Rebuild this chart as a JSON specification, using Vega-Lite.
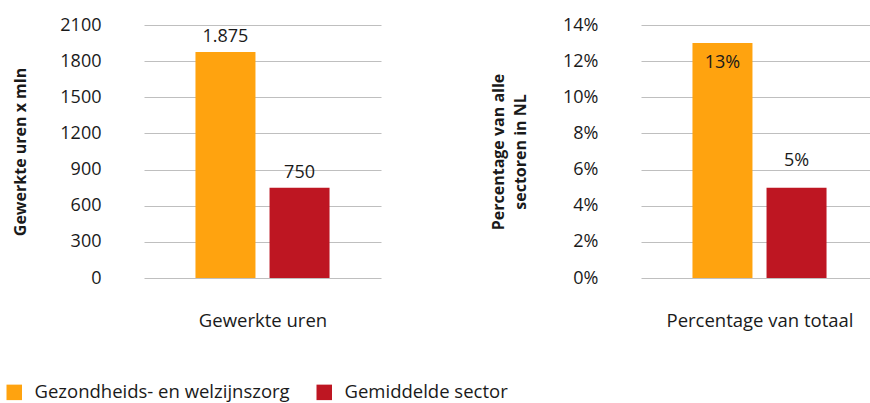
{
  "$schema": "https://vega.github.io/schema/vega-lite/v6.json",
  "padding": {"left": 5, "top": 16, "right": 0, "bottom": 0},
  "config": {
    "font": "Open Sans",
    "view": {"stroke": null},
    "locale": {"number": {"decimal": ",", "thousands": ".", "grouping": [3], "currency": ["€", ""]}},
    "axis": {"labelFont": "Open Sans", "titleFont": "Open Sans", "labelColor": "#1a1a1a", "titleColor": "#1a1a1a"}
  },
  "data": {
    "values": [
      {"panel": "uren", "category": "Gewerkte uren", "series": "Gezondheids- en welzijnszorg", "value": 1875},
      {"panel": "uren", "category": "Gewerkte uren", "series": "Gemiddelde sector", "value": 750},
      {"panel": "pct", "category": "Percentage van totaal", "series": "Gezondheids- en welzijnszorg", "value": 0.13},
      {"panel": "pct", "category": "Percentage van totaal", "series": "Gemiddelde sector", "value": 0.05}
    ]
  },
  "hconcat": [
    {
      "width": 237,
      "height": 253,
      "transform": [{"filter": "datum.panel === 'uren'"}],
      "encoding": {
        "x": {
          "field": "series", "type": "nominal", "sort": ["Gezondheids- en welzijnszorg", "Gemiddelde sector"],
          "scale": {"paddingInner": 0, "paddingOuter": 0.6},
          "axis": {"labels": false, "ticks": false, "domain": false, "title": "Gewerkte uren", "titleFontSize": 18.5, "titleFontWeight": "normal", "titlePadding": 33}
        },
        "y": {
          "field": "value", "type": "quantitative",
          "scale": {"domain": [0, 2100], "nice": false},
          "axis": {"values": [0, 300, 600, 900, 1200, 1500, 1800, 2100], "format": "d", "labelFontSize": 18, "labelPadding": 43, "ticks": false, "domain": false, "gridColor": "#BFBFBF", "title": "Gewerkte uren x mln", "titleFontSize": 16, "titleFontWeight": "bold", "titlePadding": 31}
        }
      },
      "layer": [
        {
          "mark": {"type": "bar", "size": 60},
          "encoding": {
            "color": {
              "field": "series", "type": "nominal",
              "scale": {"domain": ["Gezondheids- en welzijnszorg", "Gemiddelde sector"], "range": ["#FFA30F", "#BE1622"]},
              "legend": {"orient": "none", "legendX": -139, "legendY": 358, "direction": "horizontal", "title": null, "symbolType": "square", "symbolSize": 240, "symbolStrokeWidth": 0, "symbolOpacity": 1, "labelFontSize": 18.5, "labelLimit": 400, "labelColor": "#1a1a1a", "labelFont": "Open Sans", "columnPadding": 25, "labelOffset": 11}
            }
          }
        },
        {
          "mark": {"type": "text", "baseline": "bottom", "dy": -6, "fontSize": 18, "color": "#1a1a1a"},
          "encoding": {"text": {"field": "value", "type": "quantitative", "format": ",.0f"}}
        }
      ]
    },
    {
      "width": 237,
      "height": 253,
      "transform": [{"filter": "datum.panel === 'pct'"}],
      "encoding": {
        "x": {
          "field": "series", "type": "nominal", "sort": ["Gezondheids- en welzijnszorg", "Gemiddelde sector"],
          "scale": {"paddingInner": 0, "paddingOuter": 0.6},
          "axis": {"labels": false, "ticks": false, "domain": false, "title": "Percentage van totaal", "titleFontSize": 18.5, "titleFontWeight": "normal", "titlePadding": 33}
        },
        "y": {
          "field": "value", "type": "quantitative",
          "scale": {"domain": [0, 0.14], "nice": false},
          "axis": {"values": [0, 0.02, 0.04, 0.06, 0.08, 0.1, 0.12, 0.14], "format": ".0%", "labelFontSize": 18, "labelPadding": 43, "ticks": false, "domain": false, "gridColor": "#BFBFBF", "title": ["Percentage van alle", "sectoren in NL"], "titleFontSize": 16, "titleLineHeight": 22, "titleFontWeight": "bold", "titlePadding": 34}
        }
      },
      "layer": [
        {
          "mark": {"type": "bar", "size": 60},
          "encoding": {"color": {"field": "series", "type": "nominal"}}
        },
        {
          "transform": [{"filter": "datum.series === 'Gezondheids- en welzijnszorg'"}],
          "mark": {"type": "text", "baseline": "top", "dy": 11, "fontSize": 18, "color": "#1a1a1a"},
          "encoding": {"text": {"field": "value", "type": "quantitative", "format": ".0%"}}
        },
        {
          "transform": [{"filter": "datum.series === 'Gemiddelde sector'"}],
          "mark": {"type": "text", "baseline": "bottom", "dy": -18, "fontSize": 18, "color": "#1a1a1a"},
          "encoding": {"text": {"field": "value", "type": "quantitative", "format": ".0%"}}
        }
      ]
    }
  ],
  "spacing": 109
}
